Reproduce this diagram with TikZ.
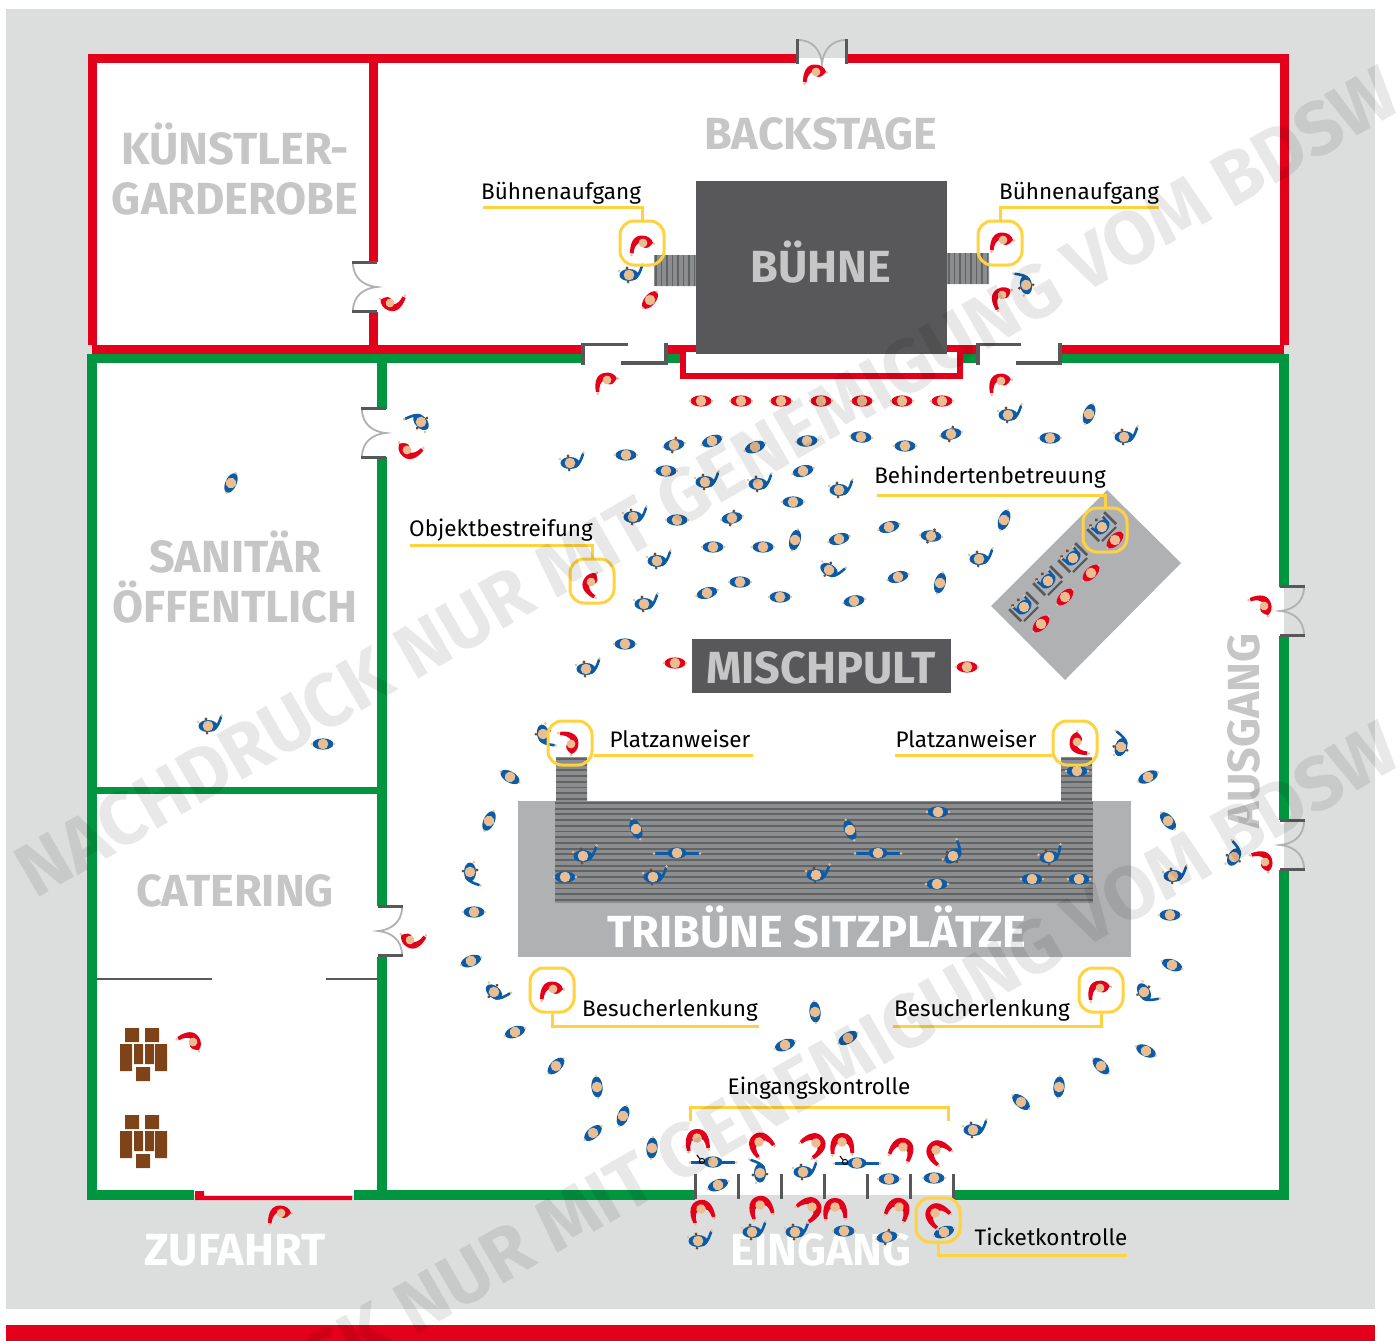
\documentclass[tikz,border=0pt]{standalone}
\usepackage{fontspec}
\setmainfont{Fira Sans}
\usepackage{xcolor}
\usetikzlibrary{positioning}
\definecolor{bgrey}{HTML}{DCDDDD}
\definecolor{wallred}{HTML}{E2001A}
\definecolor{wallgreen}{HTML}{009640}
\definecolor{darkg}{HTML}{58585A}
\definecolor{midg}{HTML}{B0B1B3}
\definecolor{stairg}{HTML}{8C8D8F}
\definecolor{titleg}{HTML}{C6C6C6}
\definecolor{marky}{HTML}{FFD23F}
\definecolor{persblue}{HTML}{0B5CA8}
\definecolor{skin}{HTML}{EBBE92}
\definecolor{hair}{HTML}{7F4319}
\tikzset{
  wallr/.style={wallred,line width=9pt},
  wallg/.style={wallgreen,line width=9.5pt},
  post/.style={darkg,line width=3.6pt},
  lead/.style={marky,line width=3pt},
  ring/.style={draw=marky,line width=3pt,rounded corners=14pt,minimum size=44pt,inner sep=0pt},
  lbl/.style={font=\fontsize{22.5}{24}\selectfont,black,inner sep=0pt},
  ttl/.style={font=\fontsize{45}{46}\selectfont\bfseries,titleg,inner sep=0pt,align=center},
  wmark/.style={font=\fontsize{75}{77}\selectfont\bfseries,black,opacity=.09,rotate=30,inner sep=0pt},
  stripe/.style={darkg!80!stairg,line width=1.9pt},
  redm/.style={fill=wallred},
  bluem/.style={fill=persblue},
  walker/.pic={
    \fill[pic actions] (0,0) ellipse [x radius=10.5,y radius=5.6];
    \fill[skin] (-11,0) circle (1.3) (11,0) circle (1.3) (0,0) circle (5.3);
  },
  hiker/.pic={
    \fill[hair] (3,-6.5) circle (1.6) (-3,6.5) circle (1.6);
    \fill[persblue] (0,0) ellipse [x radius=10.5,y radius=5.6];
    \fill[skin] (-11,0) circle (1.3) (11,0) circle (1.3) (0,0) circle (5.3);
  },
  wave/.pic={
    \fill[hair] (-2,-7) circle (1.6) (-1,7) circle (1.5);
    \fill[persblue] (0,0) ellipse [x radius=9.5,y radius=6];
    \draw[persblue,line width=2.6pt,line cap=round] (5,4) .. controls (9,2) and (11,-3) .. (13,-9);
    \fill[skin] (13.5,-10.5) circle (1.4) (-10,-4) circle (1.4) (0,0) circle (5.3);
  },
  wide/.pic={
    \fill[persblue] (0,0) ellipse [x radius=9.5,y radius=5.6];
    \draw[persblue,line width=2.4pt] (-22,0.5) -- (22,0.5);
    \fill[skin] (-23,0.5) circle (1.4) (23,0.5) circle (1.4) (0,0) circle (5.3);
  },
  guard/.pic={
    \fill[wallred] (-13,10) .. controls (-13,-1) and (-9,-7.5) .. (-1,-7.5) .. controls (5,-7.5) and (9,-4) .. (10,0)
      .. controls (6,5) and (3,6) .. (0,4) -- (-4,0) .. controls (-7,1.5) and (-9,5) .. (-9.5,10.5) -- cycle;
    \fill[skin] (-11.5,12) circle (1.4) (11,0.5) circle (1.4) (0,0) circle (4.4);
  },
  checker/.pic={
    \fill[wallred] (-11,12) .. controls (-13.5,0) and (-9,-9) .. (0,-9) .. controls (9,-9) and (13,-1) .. (12,11)
      -- (8.5,11) .. controls (8,4) and (6,0) .. (0,0) .. controls (-5,0) and (-8,4) .. (-7.5,12) -- cycle;
    \fill[skin] (-9.5,13.5) circle (1.4) (10.5,12.5) circle (1.4) (0,0) circle (4.8);
  },
  sitter/.pic={
    \draw[darkg,line width=2.6pt] (-12,-9) -- (-12,8) (12,-9) -- (12,8);
    \draw[darkg,line width=2pt] (-10,10) -- (10,10);
    \fill[hair] (-7,-9) circle (1.7) (1,-9) circle (1.7);
    \fill[persblue] (0,0) ellipse [x radius=8.5,y radius=6.2];
    \draw[persblue,line width=2.4pt] (-7,2) -- (-8,-7) (7,2) -- (8,-7);
    \fill[skin] (0,0) circle (5.3) (-8,-8) circle (1.3) (8,-8) circle (1.3);
  },
  door/.pic={
    \draw[midg,line width=1.8pt] (-24,-24) .. controls (-24,-8) and (-12,-1) .. (0,0)
      .. controls (-12,1) and (-24,8) .. (-24,24);
    \draw[post] (-25,-24.5) -- (0,-24.5) (-25,24.5) -- (0,24.5);
  },
  crates/.pic={
    \fill[hair] (0,0) rectangle (14,14) (20,0) rectangle (34,14)
      (-5,16) rectangle (7,43) (9,16) rectangle (18,36)
      (20,16) rectangle (29,36) (30,16) rectangle (42,43)
      (11,39) rectangle (25,53);
  }
}
\begin{document}
\begin{tikzpicture}[x=1pt,y=-1pt]
  \useasboundingbox (0,0) rectangle (1400,1341);
  \clip (0,0) rectangle (1400,1341);
  \fill[white] (0,0) rectangle (1400,1341);
  \fill[bgrey] (6,9) rectangle (1375,1309);
  \fill[wallred] (6,1325) rectangle (1375,1341);
  \fill[white] (92,58) rectangle (1284,1195);

  \fill[midg] (1107,490) -- (1181,563) -- (1065,680) -- (991,606) -- cycle;
  \fill[midg] (518,801) rectangle (1131,957);
  \fill[stairg] (555,801) rectangle (1093,903);
  \foreach \y in {803,808.7,...,902} \draw[stripe] (555,\y) -- (1093,\y);
  \fill[stairg] (556,757) rectangle (587,801) (1061,757) rectangle (1092,801);
  \foreach \y in {759,764.7,...,800} \draw[stripe] (556,\y) -- (587,\y) (1061,\y) -- (1092,\y);
  \fill[stairg] (654,255) rectangle (696,286) (947,253) rectangle (989,284);
  \foreach \x in {656,661.5,...,696} \draw[stripe] (\x,255) -- (\x,286) (\x+293,253) -- (\x+293,284);

  \draw[wallr] (92,345) -- (92,58) -- (797,58) (847,58) -- (1284,58) -- (1284,345);
  \draw[wallr] (373,58) -- (373,262) (373,312) -- (373,350);
  \draw[wallr] (92,349.5) -- (582,349.5) (667,349.5) -- (977,349.5) (1062,349.5) -- (1284,349.5);
  \draw[wallg] (92,358.5) -- (582,358.5) (667,358.5) -- (977,358.5) (1062,358.5) -- (1284,358.5);
  \draw[wallg] (92,354) -- (92,1199) (1284,354) -- (1284,587) (1284,636) -- (1284,820) (1284,870) -- (1284,1199);
  \draw[wallg] (382,354) -- (382,409) (382,457) -- (382,906) (382,957) -- (382,1199);
  \draw[wallgreen,line width=7pt] (92,790) -- (382,790);
  \draw[wallg] (87,1195) -- (194,1195) (354,1195) -- (695,1195) (953,1195) -- (1289,1195);
  \fill[wallred] (195,1196) rectangle (352,1200) (195,1191) rectangle (204,1200);

  \fill[white] (680,352) rectangle (963,378);
  \draw[wallred,line width=6pt] (683,350) -- (683,376) -- (960,376) -- (960,350);
  \fill[darkg] (696,181) rectangle (947,354);
  \node[ttl] (buehne) at (821,262) {BÜHNE};
  \fill[darkg] (692,639) rectangle (951,693);
  \node[ttl] (mischpult) at (821,668) {MISCHPULT};
  \node[ttl,white] (tribuene) at (817,927) {TRIBÜNE SITZPLÄTZE};

  \node[ttl] (kuenstler) at (235,169) {KÜNSTLER-\\[4pt]GARDEROBE};
  \node[ttl] (backstage) at (821,134) {BACKSTAGE};
  \node[ttl] (sanitaer) at (235,577) {SANITÄR\\[4pt]ÖFFENTLICH};
  \node[ttl] (catering) at (235,891) {CATERING};
  \node[ttl,white] (zufahrt) at (235,1250) {ZUFAHRT};
  \node[ttl,white] (eingang) at (821,1250) {EINGANG};
  \node[ttl,rotate=90] (ausgang) at (1244,731) {AUSGANG};

  \pic at (377,287) {door};
  \pic at (386,433) {door};
  \pic[rotate=180] at (378,931) {door};
  \pic[rotate=180] at (1280,611) {door};
  \pic[rotate=180] at (1280,845) {door};
  \pic[rotate=-90] at (822,64) {door};
  \draw[post] (583,365) -- (583,344.5) -- (628,344.5) (621,363) -- (666,363) -- (666,343);
  \draw[post] (978,365) -- (978,344.5) -- (1021,344.5) (1016,363) -- (1060,363) -- (1060,343);
  \foreach \x in {695,738,781,824,867,910,953} \draw[darkg,line width=3pt] (\x,1174) -- (\x,1199);
  \draw[darkg,line width=2.6pt] (97,979) -- (212,979) (326,979) -- (378,979);

  \pic at (125,1028) {crates};
  \pic at (125,1115) {crates};

  \foreach \x/\y/\a in {701/401/0,741/401/0,781/401/0,821/401/0,862/401/0,902/401/0,942/401/0,
    675/663/0,967/667/0,650/300/50}
    \pic[redm,rotate=\a] at (\x,\y) {walker};
  \foreach \x/\y/\a in {1008/415/0,1124/437/0,570/463/0,705/482/0,758/484/0,839/490/0,633/517/0,
    979/559/0,657/561/0,829/570/-30,644/604/0,586/669/0,629/275/0,1026/285/100,421/422/133,208/726/0,
    543/734/-80,583/856/0,653/877/0,816/875/0,953/856/40,1049/857/10,470/872/-90,494/992/-40,
    1121/747/70,1173/876/0,1144/992/-60,973/1130/0,1234/857/60,760/1173/90,803/1172/0,
    698/1241/0,752/1232/0,795/1232/0}
    \pic[rotate=\a] at (\x,\y) {wave};
  \foreach \x/\y/\a in {1089/414/70,1050/438/0,905/446/0,861/437/-5,807/441/5,755/447/20,
    712/441/20,626/455/0,666/471/0,803/471/15,793/502/0,677/520/0,889/527/15,
    1004/520/70,713/547/0,763/547/0,795/540/75,839/539/15,898/577/15,940/583/75,707/593/15,
    740/582/0,780/597/0,854/601/10,625/644/0,231/483/65,323/744/0,636/829/-67,850/830/-67,938/812/0,
    565/877/0,937/884/0,1032/879/0,1079/879/0,1077/771/0,510/777/-30,489/821/65,474/912/0,471/961/20,
    515/1032/20,556/1066/45,597/1087/-85,623/1116/70,593/1133/40,652/1148/85,1148/777/25,1168/821/-50,
    1170/915/0,1172/965/-20,1146/1051/-25,1101/1066/-45,1059/1087/85,1021/1102/-40,815/1012/-85,
    848/1038/30,785/1045/20,718/1185/20,889/1179/0,934/1178/0,844/1231/0,944/1232/20}
    \pic[bluem,rotate=\a] at (\x,\y) {walker};
  \foreach \x/\y/\a in {674/445/10,732/518/10,951/434/10,931/536/-5,887/1237/10}
    \pic[rotate=\a] at (\x,\y) {hiker};
  \foreach \x/\y in {677/853,878/853,713/1162,857/1163}
    \pic at (\x,\y) {wide};
  \foreach \x/\y/\a in {643/243/0,1003/240/0,816/72/0,390/303/160,607/380/10,1001/381/10,1002/295/30,
    407/450/140,410/940/150,591/582/60,571/744/-87,1077/742/90,553/989/0,1100/988/10,281/1213/0,
    1264/606/-67,1265/862/-70,193/1042/-55}
    \pic[rotate=\a] at (\x,\y) {guard};
  \foreach \x/\y/\a in {697/1138/5,759/1142/35,816/1143/-55,842/1142/0,903/1147/-25,936/1150/45,
    701/1209/15,760/1205/15,812/1207/-55,835/1207/0,899/1207/-25,935/1213/45}
    \pic[rotate=\a] at (\x,\y) {checker};
  \foreach \x/\y in {1102/527,1073/558,1048/581,1024/607}
    \pic[rotate=45] at (\x,\y) {sitter};
  \foreach \x/\y in {1115/540,1091/573,1065/597,1041/624}
    \pic[redm,rotate=45] at (\x,\y) {walker};
  \draw[black,line width=1pt] (702,1161) circle (2.6) (697,1155) -- (700,1159);
  \draw[black,line width=1pt] (845,1162) circle (2.6) (840,1156) -- (843,1160);

  \node[ring] (rbuehnea) at (642,243) {};
  \node[ring] (rbuehneb) at (1000,243) {};
  \node[ring] (robjekt) at (592,581) {};
  \node[ring] (rbehind) at (1105,530) {};
  \node[ring] (rplatza) at (570,743) {};
  \node[ring] (rplatzb) at (1075,743) {};
  \node[ring] (rlenka) at (552,990) {};
  \node[ring] (rlenkb) at (1101,990) {};
  \node[ring] (rticket) at (938,1220) {};
  \coordinate (cbuehnea) at (483,207);
  \coordinate (cbuehneb) at (1159,207);
  \coordinate (cobjekt) at (410,545);
  \coordinate (cbehind) at (877,495);
  \coordinate (cplatza) at (753,755);
  \coordinate (cplatzb) at (895,755);
  \coordinate (clenka) at (759,1026);
  \coordinate (clenkb) at (893,1026);
  \coordinate (cticket) at (1127,1255);
  \coordinate (ckontra) at (690,1121);
  \coordinate (ckontrb) at (948,1121);
  \coordinate (ckontrm) at (819,1107);
  \draw[lead] (cbuehnea) -| (rbuehnea);
  \draw[lead] (cbuehneb) -| (rbuehneb);
  \draw[lead] (cobjekt) -| (robjekt);
  \draw[lead] (cbehind) -| (rbehind);
  \draw[lead] (cplatza) -- (cplatza -| rplatza.east);
  \draw[lead] (cplatzb) -- (cplatzb -| rplatzb.west);
  \draw[lead] (clenka) -| (rlenka);
  \draw[lead] (clenkb) -| (rlenkb);
  \draw[lead] (cticket) -| (rticket);
  \draw[lead] (ckontra) |- (ckontrm) -| (ckontrb);
  \node[lbl] (tbuehnea) at (561,193) {Bühnenaufgang};
  \node[lbl] (tbuehneb) at (1079,193) {Bühnenaufgang};
  \node[lbl] (tobjekt) at (501,530) {Objektbestreifung};
  \node[lbl] (tbehind) at (990,477) {Behindertenbetreuung};
  \node[lbl] (tplatza) at (680,739) {Platzanweiser};
  \node[lbl] (tplatzb) at (966,739) {Platzanweiser};
  \node[lbl] (tlenka) at (670,1010) {Besucherlenkung};
  \node[lbl] (tlenkb) at (982,1010) {Besucherlenkung};
  \node[lbl] (tkontr) at (819,1088) {Eingangskontrolle};
  \node[lbl] (tticket) at (1051,1237) {Ticketkontrolle};

  \node[wmark] (marka) at (707,482) {NACHDRUCK NUR MIT GENEMIGUNG VOM BDSW};
  \node[wmark] (markb) at (707,1137) {NACHDRUCK NUR MIT GENEMIGUNG VOM BDSW};
\end{tikzpicture}
\end{document}
